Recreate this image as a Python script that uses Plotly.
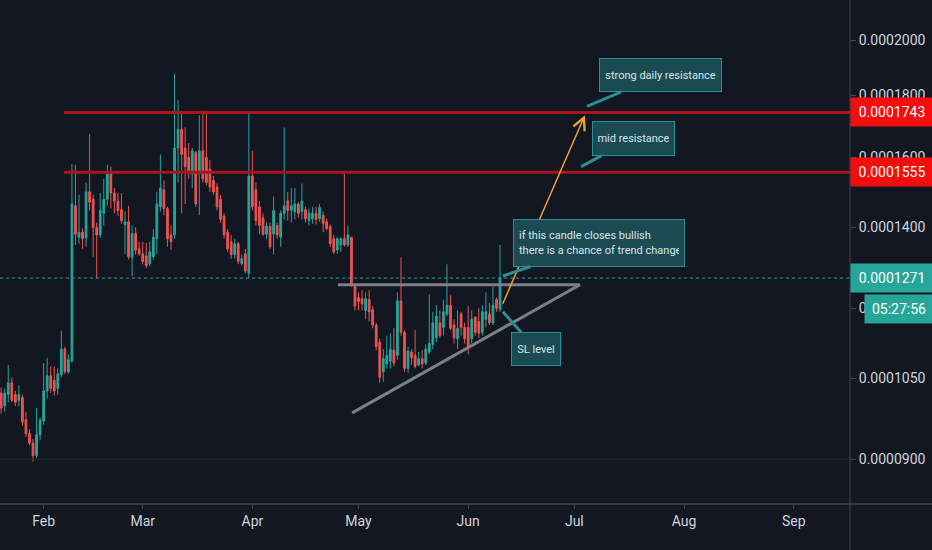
import math

import pandas as pd
import plotly.graph_objects as go

# daily candles from 2019-01-19, prices in units of 1e-7
first_day = "2019-01-19"
opens = [
    1025, 1021, 996, 1018, 1041, 1018, 1007, 1012, 970, 945,
    928, 906, 943, 968, 1025, 1055, 1046, 1030, 1057, 1110,
    1063, 1085, 1459, 1374, 1387, 1372, 1498, 1477, 1400, 1380,
    1438, 1477, 1550, 1495, 1472, 1448, 1408, 1415, 1322, 1384,
    1344, 1331, 1326, 1307, 1324, 1370, 1456, 1504, 1451, 1380,
    1380, 1629, 1688, 1629, 1600, 1550, 1615, 1552, 1620, 1600,
    1564, 1531, 1512, 1477, 1431, 1387, 1362, 1329, 1357, 1307,
    1331, 1283, 1544, 1504, 1456, 1426, 1382, 1403, 1382, 1405,
    1374, 1438, 1472, 1446, 1443, 1464, 1443, 1448, 1418, 1423,
    1438, 1423, 1433, 1415, 1403, 1370, 1341, 1354, 1370, 1354,
    1374, 1255, 1225, 1222, 1195, 1220, 1197, 1162, 1125, 1063,
    1079, 1085, 1108, 1097, 1217, 1146, 1070, 1104, 1097, 1077,
    1090, 1081, 1104, 1120, 1134, 1167, 1157, 1187, 1207, 1162,
    1132, 1187, 1157, 1157, 1132, 1180, 1170, 1146, 1175, 1187,
    1167, 1220, 1197,
]
highs = [
    1041, 1032, 1030, 1077, 1052, 1025, 1036, 1018, 985, 953,
    935, 992, 974, 1081, 1092, 1074, 1074, 1070, 1150, 1115,
    1099, 1580, 1578, 1490, 1397, 1525, 1673, 1490, 1413, 1495,
    1536, 1578, 1572, 1509, 1495, 1495, 1443, 1459, 1405, 1400,
    1362, 1362, 1359, 1362, 1395, 1498, 1609, 1531, 1456, 1405,
    1876, 1784, 1740, 1694, 1644, 1629, 1620, 1734, 1749, 1749,
    1592, 1544, 1522, 1490, 1438, 1395, 1380, 1370, 1362, 1329,
    1344, 1743, 1620, 1525, 1472, 1438, 1413, 1413, 1485, 1413,
    1446, 1694, 1498, 1509, 1509, 1469, 1522, 1456, 1451, 1456,
    1456, 1464, 1443, 1423, 1408, 1380, 1374, 1374, 1552, 1405,
    1374, 1258, 1237, 1242, 1237, 1242, 1205, 1167, 1132, 1110,
    1139, 1144, 1155, 1237, 1322, 1151, 1115, 1110, 1151, 1104,
    1108, 1120, 1232, 1192, 1207, 1195, 1220, 1305, 1230, 1175,
    1195, 1192, 1167, 1205, 1195, 1182, 1200, 1207, 1237, 1212,
    1250, 1225, 1354,
]
lows = [
    985, 981, 985, 1003, 1003, 996, 996, 959, 939, 924,
    896, 902, 933, 961, 1010, 1021, 1016, 1018, 1052, 1059,
    1059, 1081, 1354, 1357, 1344, 1349, 1446, 1324, 1271, 1372,
    1405, 1459, 1451, 1438, 1431, 1410, 1331, 1317, 1276, 1329,
    1326, 1305, 1295, 1300, 1317, 1331, 1443, 1433, 1349, 1341,
    1370, 1525, 1438, 1464, 1536, 1509, 1456, 1433, 1525, 1517,
    1498, 1490, 1446, 1413, 1370, 1336, 1319, 1319, 1305, 1302,
    1283, 1271, 1446, 1405, 1382, 1377, 1370, 1344, 1329, 1370,
    1349, 1421, 1418, 1413, 1421, 1426, 1421, 1413, 1405, 1410,
    1408, 1415, 1387, 1392, 1349, 1331, 1331, 1336, 1349, 1349,
    1250, 1195, 1195, 1195, 1175, 1170, 1155, 1108, 1041, 1043,
    1070, 1070, 1074, 1088, 1139, 1063, 1061, 1077, 1070, 1074,
    1070, 1077, 1099, 1110, 1125, 1134, 1139, 1182, 1151, 1122,
    1110, 1139, 1122, 1099, 1122, 1139, 1134, 1139, 1157, 1162,
    1162, 1192, 1192,
]
closes = [
    988, 992, 1021, 1041, 1007, 1003, 1018, 966, 945, 928,
    906, 943, 970, 1025, 1055, 1030, 1025, 1059, 1110, 1063,
    1088, 1464, 1382, 1387, 1370, 1498, 1469, 1400, 1380, 1446,
    1477, 1550, 1495, 1472, 1446, 1418, 1415, 1324, 1384, 1341,
    1331, 1312, 1302, 1336, 1374, 1464, 1509, 1451, 1370, 1362,
    1629, 1688, 1609, 1572, 1552, 1620, 1464, 1620, 1536, 1525,
    1512, 1498, 1456, 1421, 1380, 1344, 1329, 1357, 1312, 1319,
    1288, 1544, 1456, 1418, 1405, 1382, 1403, 1349, 1446, 1380,
    1438, 1459, 1446, 1459, 1464, 1438, 1472, 1423, 1438, 1438,
    1421, 1454, 1410, 1397, 1357, 1336, 1370, 1370, 1354, 1380,
    1255, 1205, 1215, 1210, 1222, 1192, 1162, 1115, 1052, 1090,
    1097, 1110, 1081, 1217, 1146, 1070, 1106, 1092, 1074, 1090,
    1079, 1110, 1122, 1167, 1182, 1139, 1192, 1207, 1155, 1134,
    1155, 1157, 1132, 1115, 1175, 1146, 1144, 1192, 1192, 1167,
    1207, 1200, 1271,
]

resistance_levels = [1743, 1555]
resistance_start = "2019-02-06 18:00"
last_price = 1271
range_low = 900
countdown = "05:27:56"

# ascending triangle and projection arrow
triangle_dates = ["2019-04-25 04:00", "2019-07-02 14:00", "2019-04-29 05:00"]
triangle_prices = [1255, 1255, 983]
arrow_dates = ["2019-06-10 14:00", "2019-07-04 00:00"]
arrow_prices = [1207, 1734]

callout_texts = [
    "strong daily resistance",
    "mid resistance",
    "if this candle closes bullish<br>there is a chance of trend change",
    "SL level",
]
callout_dates = ["2019-07-04 14:00", "2019-07-02 22:00", "2019-06-10 19:00", "2019-06-10 19:00"]
callout_prices = [1763, 1572, 1276, 1192]

month_ticks = ["2019-02-01", "2019-03-01", "2019-04-01", "2019-05-01",
               "2019-06-01", "2019-07-01", "2019-08-01", "2019-09-01"]
month_labels = ["Feb", "Mar", "Apr", "May", "Jun", "Jul", "Aug", "Sep"]
price_ticks = [900, 1050, 1200, 1400, 1600, 1800, 2000]

x_range = ["2019-01-19 16:00", "2019-09-16 22:00"]

BG = "#131722"
UP = "#26a69a"
DOWN = "#ef5350"
AXIS = "#434651"
TEXT = "#d1d4dc"
FONT = "Roboto, Liberation Sans, sans-serif"
BOX_BG = "#1b4a53"
BOX_EDGE = "#2a8e93"


def price(v):
    return v * 1e-7


dates = pd.date_range(first_day, periods=len(closes), freq="D")

fig = go.Figure()

# faint horizontal at the range low
fig.add_trace(go.Scatter(
    x=x_range, y=[price(range_low)] * 2, mode="lines",
    line=dict(color="#2a2e39", width=1), showlegend=False, hoverinfo="skip",
))

fig.add_trace(go.Candlestick(
    x=dates,
    open=[price(v) for v in opens],
    high=[price(v) for v in highs],
    low=[price(v) for v in lows],
    close=[price(v) for v in closes],
    increasing=dict(line=dict(color=UP, width=1), fillcolor=UP),
    decreasing=dict(line=dict(color=DOWN, width=1), fillcolor=DOWN),
    whiskerwidth=0,
    showlegend=False,
))

# last price dotted line
fig.add_trace(go.Scatter(
    x=x_range, y=[price(last_price)] * 2, mode="lines",
    line=dict(color=UP, width=1, dash="dot"), showlegend=False, hoverinfo="skip",
))

for level in resistance_levels:
    fig.add_trace(go.Scatter(
        x=[resistance_start, x_range[1]], y=[price(level)] * 2, mode="lines",
        line=dict(color="#a8161c", width=3), showlegend=False, hoverinfo="skip",
    ))

fig.add_trace(go.Scatter(
    x=triangle_dates, y=[price(v) for v in triangle_prices], mode="lines",
    line=dict(color="#7c7f8a", width=3), showlegend=False, hoverinfo="skip",
))

annotations = []

# projection arrow
annotations.append(dict(
    x=arrow_dates[1], y=math.log10(price(arrow_prices[1])),
    ax=arrow_dates[0], ay=math.log10(price(arrow_prices[0])),
    xref="x", yref="y", axref="x", ayref="y", text="",
    showarrow=True, arrowhead=5, arrowsize=1.6, arrowwidth=1.5,
    arrowcolor="#f2a033", standoff=0,
))

callout_style = [
    dict(ax=73, ay=-31, width=111, height=22, align="center"),
    dict(ax=52, ay=-28, width=71, height=23, align="center"),
    dict(ax=96, ay=-33, width=160, height=36, align="left"),
    dict(ax=33, ay=37, width=38, height=22, align="center"),
]
for text, d, v, st in zip(callout_texts, callout_dates, callout_prices, callout_style):
    annotations.append(dict(
        x=d, y=math.log10(price(v)), xref="x", yref="y",
        text=text, showarrow=True, arrowhead=0, arrowwidth=3,
        arrowcolor=BOX_EDGE, standoff=0,
        bgcolor=BOX_BG, bordercolor=BOX_EDGE, borderwidth=1, borderpad=5,
        font=dict(family=FONT, size=11, color="#d9e4e6"),
        **st,
    ))

# price tags on the scale
for level, colour in [(resistance_levels[0], "#f40d0d"), (resistance_levels[1], "#f40d0d"),
                      (last_price, UP)]:
    annotations.append(dict(
        x=1, xref="paper", xanchor="left", y=math.log10(price(level)), yref="y",
        text=f"{price(level):.7f}", showarrow=False, bgcolor=colour,
        width=74, height=20, borderpad=4,
        font=dict(family=FONT, size=14, color="#ffffff"),
    ))
annotations.append(dict(
    x=1, xref="paper", xanchor="left", xshift=14,
    y=math.log10(price(last_price)), yref="y", yshift=-31,
    text=countdown, showarrow=False, bgcolor=UP,
    width=60, height=20, borderpad=4,
    font=dict(family=FONT, size=14, color="#ffffff"),
))

fig.update_layout(
    width=932, height=550,
    margin=dict(l=0, r=82, t=0, b=46),
    paper_bgcolor=BG, plot_bgcolor=BG,
    font=dict(family=FONT, color=TEXT, size=14),
    annotations=annotations,
    shapes=[
        dict(type="line", xref="paper", yref="paper", x0=0, x1=1.2, y0=0, y1=0,
             line=dict(color=AXIS, width=1.5)),
        dict(type="line", xref="paper", yref="paper", x0=1, x1=1, y0=-0.2, y1=1,
             line=dict(color=AXIS, width=1)),
    ],
    xaxis=dict(
        type="date", range=x_range, rangeslider=dict(visible=False),
        tickvals=month_ticks, ticktext=month_labels,
        ticks="outside", ticklen=4, tickcolor=AXIS,
        showgrid=False, zeroline=False, showline=False, automargin=False,
        tickfont=dict(family=FONT, size=14, color=TEXT),
    ),
    yaxis=dict(
        type="log", range=[-4.0829, -3.6656], side="right",
        tickvals=[price(v) for v in price_ticks],
        ticktext=[f"{price(v):.7f}" for v in price_ticks],
        ticks="outside", ticklen=5, tickcolor=AXIS,
        showgrid=False, zeroline=False, showline=False,
        automargin=False,
        tickfont=dict(family=FONT, size=14, color=TEXT),
    ),
)

fig.write_html("out.html", config={"displayModeBar": False},
               post_script="document.body.style.margin='0';")
